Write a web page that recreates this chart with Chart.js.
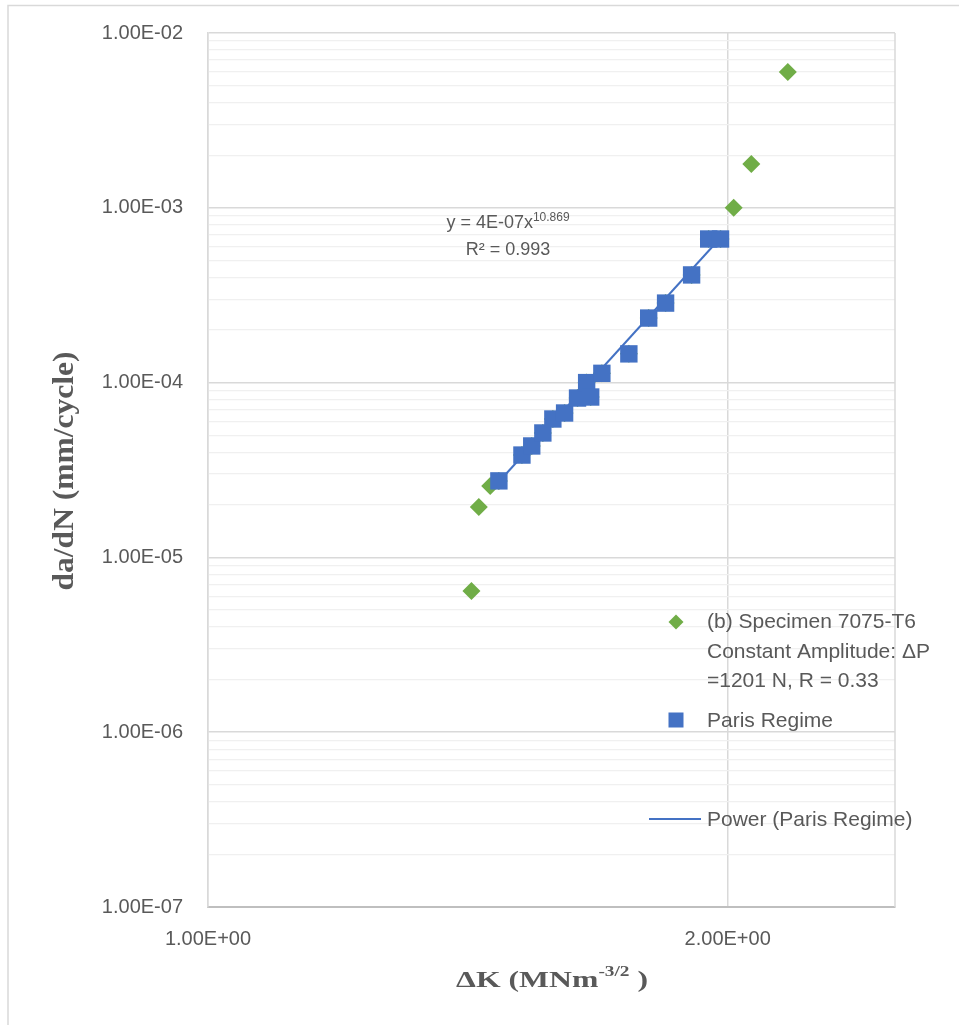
<!DOCTYPE html>
<html><head><meta charset="utf-8">
<script src="https://cdn.jsdelivr.net/npm/chart.js@4/dist/chart.umd.min.js"></script>
<style>html,body{margin:0;padding:0;background:#fff;}#wrap{position:relative;width:959px;height:1025px;}</style>
</head><body><div id="wrap"><canvas id="c" width="959" height="1025"></canvas></div>
<script>
// ---- data ----
const specimenDK   = [1.421, 1.435, 1.457, 1.474, 1.520, 1.540, 1.563, 1.584, 1.609, 1.637, 1.657, 1.666, 1.691, 1.753, 1.800, 1.841, 1.906, 1.950, 1.981, 2.016, 2.064, 2.167];
const specimenDadN = [6.43e-6, 1.94e-5, 2.56e-5, 2.74e-5, 3.85e-5, 4.34e-5, 5.15e-5, 6.19e-5, 6.70e-5, 8.16e-5, 1.00e-4, 8.27e-5, 1.13e-4, 1.46e-4, 2.34e-4, 2.85e-4, 4.13e-4, 6.63e-4, 6.63e-4, 1.00e-3, 1.78e-3, 5.98e-3];
const parisDK      = [1.474, 1.520, 1.540, 1.563, 1.584, 1.609, 1.637, 1.657, 1.666, 1.691, 1.753, 1.800, 1.841, 1.906, 1.950, 1.981];
const parisDadN    = [2.74e-5, 3.85e-5, 4.34e-5, 5.15e-5, 6.19e-5, 6.70e-5, 8.16e-5, 1.00e-4, 8.27e-5, 1.13e-4, 1.46e-4, 2.34e-4, 2.85e-4, 4.13e-4, 6.63e-4, 6.63e-4];
const trendDK      = [1.474, 1.981];
const trendDadN    = [2.71e-5, 6.74e-4];
const xTickValues  = [1, 2];
const yDecades     = [1e-7, 1e-6, 1e-5, 1e-4, 1e-3, 1e-2];
const yMinorSteps  = [2, 3, 4, 5, 6, 7, 8, 9];
const legendSpecimenLines = ['(b) Specimen 7075-T6', 'Constant Amplitude: \u0394P', '=1201 N, R = 0.33'];
const legendParis = 'Paris Regime';
const legendPower = 'Power (Paris Regime)';
const eqMain = 'y = 4E-07x', eqExp = '10.869', eqR2 = 'R\u00B2 = 0.993';
const yTitle = 'da/dN (mm/cycle)';
const xTitleMain = '\u0394K (MNm', xTitleSup = '-3/2', xTitleEnd = ' )';

const GREEN = '#70AD47', BLUE = '#4472C4', TXT = '#595959';

function fmtE(v){
  const parts = v.toExponential(2).split('e');
  const n = parseInt(parts[1], 10);
  return parts[0] + 'E' + (n < 0 ? '-' : '+') + String(Math.abs(n)).padStart(2, '0');
}
function isPow10(v){ const l = Math.log10(v); return Math.abs(l - Math.round(l)) < 1e-6; }
function pts(xs, ys){ return xs.map((x, i) => ({x: x, y: ys[i]})); }

const decor = {
  id: 'decor',
  beforeDraw(chart){
    const ctx = chart.ctx;
    ctx.save();
    ctx.strokeStyle = '#d9d9d9'; ctx.lineWidth = 1.5;
    ctx.beginPath(); ctx.moveTo(8, 1025); ctx.lineTo(8, 5.5); ctx.lineTo(959, 5.5); ctx.stroke();
    ctx.restore();
  },
  afterDraw(chart){
    const ctx = chart.ctx, a = chart.chartArea;
    ctx.save();
    // right plot border
    ctx.strokeStyle = '#d9d9d9'; ctx.lineWidth = 1.5;
    ctx.beginPath(); ctx.moveTo(a.right, a.top); ctx.lineTo(a.right, a.bottom); ctx.stroke();

    // equation
    ctx.fillStyle = TXT; ctx.textBaseline = 'alphabetic'; ctx.textAlign = 'left';
    ctx.font = '18px "Liberation Sans"';
    const w1 = ctx.measureText(eqMain).width;
    ctx.font = '12px "Liberation Sans"';
    const w2 = ctx.measureText(eqExp).width;
    let sx = 508 - (w1 + w2) / 2;
    ctx.font = '18px "Liberation Sans"';
    ctx.fillText(eqMain, sx, 228);
    ctx.font = '12px "Liberation Sans"';
    ctx.fillText(eqExp, sx + w1, 221);
    ctx.font = '18px "Liberation Sans"';
    ctx.textAlign = 'center';
    ctx.fillText(eqR2, 508, 255);

    // legend
    ctx.textAlign = 'left';
    ctx.font = '21px "Liberation Sans"';
    const base = [628, 657.5, 687];
    legendSpecimenLines.forEach((t, i) => ctx.fillText(t, 707, base[i]));
    ctx.fillText(legendParis, 707, 727);
    ctx.fillText(legendPower, 707, 826);
    ctx.fillStyle = GREEN;
    ctx.beginPath(); ctx.moveTo(676, 614.5); ctx.lineTo(683.5, 622); ctx.lineTo(676, 629.5); ctx.lineTo(668.5, 622); ctx.closePath(); ctx.fill();
    ctx.fillStyle = BLUE;
    ctx.fillRect(668.5, 712.5, 15, 15);
    ctx.strokeStyle = BLUE; ctx.lineWidth = 2;
    ctx.beginPath(); ctx.moveTo(649, 819); ctx.lineTo(701, 819); ctx.stroke();

    // y title
    ctx.fillStyle = TXT;
    ctx.save();
    ctx.translate(73, 471); ctx.rotate(-Math.PI / 2); ctx.scale(1.05, 1);
    ctx.font = 'bold 30px "Liberation Serif"'; ctx.textAlign = 'center';
    ctx.fillText(yTitle, 0, 0);
    ctx.restore();

    // x title
    ctx.save();
    ctx.font = 'bold 23px "Liberation Serif"';
    const m1 = ctx.measureText(xTitleMain).width;
    const m3 = ctx.measureText(xTitleEnd).width;
    ctx.font = 'bold 14px "Liberation Serif"';
    const m2 = ctx.measureText(xTitleSup).width;
    const sc = 1.38;
    const total = (m1 + m2 + m3) * sc;
    ctx.translate(552 - total / 2, 987); ctx.scale(sc, 1);
    ctx.textAlign = 'left';
    ctx.font = 'bold 23px "Liberation Serif"';
    ctx.fillText(xTitleMain, 0, 0);
    ctx.font = 'bold 14px "Liberation Serif"';
    ctx.fillText(xTitleSup, m1, -11);
    ctx.font = 'bold 23px "Liberation Serif"';
    ctx.fillText(xTitleEnd, m1 + m2, 0);
    ctx.restore();
    ctx.restore();
  }
};

new Chart(document.getElementById('c'), {
  type: 'scatter',
  data: {
    datasets: [
      { label: legendSpecimenLines.join(' '), data: pts(specimenDK, specimenDadN), pointStyle: 'rectRot', pointRadius: 9, pointHoverRadius: 9, backgroundColor: GREEN, borderColor: GREEN, borderWidth: 0, order: 3 },
      { label: legendParis, data: pts(parisDK, parisDadN), pointStyle: 'rect', pointRadius: 12.3, pointHoverRadius: 12.3, backgroundColor: BLUE, borderColor: BLUE, borderWidth: 0, order: 1 },
      { label: legendPower, data: pts(trendDK, trendDadN), showLine: true, borderColor: BLUE, borderWidth: 2, pointRadius: 0, fill: false, order: 2 }
    ]
  },
  options: {
    responsive: false, animation: false,
    layout: { padding: { left: 0, right: 64, top: 33, bottom: 0 } },
    plugins: { legend: { display: false }, tooltip: { enabled: false } },
    scales: {
      x: {
        type: 'logarithmic', min: 1, max: 2.5,
        afterBuildTicks: s => { s.ticks = xTickValues.map(v => ({ value: v })); },
        afterFit: s => { s.height = 118; s.paddingLeft = 0; s.paddingRight = 0; },
        ticks: { callback: v => fmtE(v), font: { family: 'Liberation Sans', size: 20 }, color: TXT, padding: 20, maxRotation: 0, autoSkip: false },
        grid: { color: '#d9d9d9', lineWidth: 1.5, drawTicks: false },
        border: { color: '#bfbfbf', width: 2 }
      },
      y: {
        type: 'logarithmic', min: 1e-7, max: 1e-2,
        afterBuildTicks: s => {
          const t = [];
          yDecades.forEach((d, i) => {
            t.push({ value: d });
            if (i < yDecades.length - 1) yMinorSteps.forEach(m => t.push({ value: m * d }));
          });
          s.ticks = t;
        },
        afterFit: s => { s.width = 208; s.paddingTop = 0; s.paddingBottom = 0; },
        ticks: { callback: v => isPow10(v) ? fmtE(v) : '', font: { family: 'Liberation Sans', size: 20 }, color: TXT, padding: 25, autoSkip: false },
        grid: { color: c => isPow10(c.tick.value) ? '#d9d9d9' : '#f0f0f0', lineWidth: c => isPow10(c.tick.value) ? 1.5 : 1.2, drawTicks: false },
        border: { color: '#d9d9d9', width: 1.5 }
      }
    }
  },
  plugins: [decor]
});
</script></body></html>
